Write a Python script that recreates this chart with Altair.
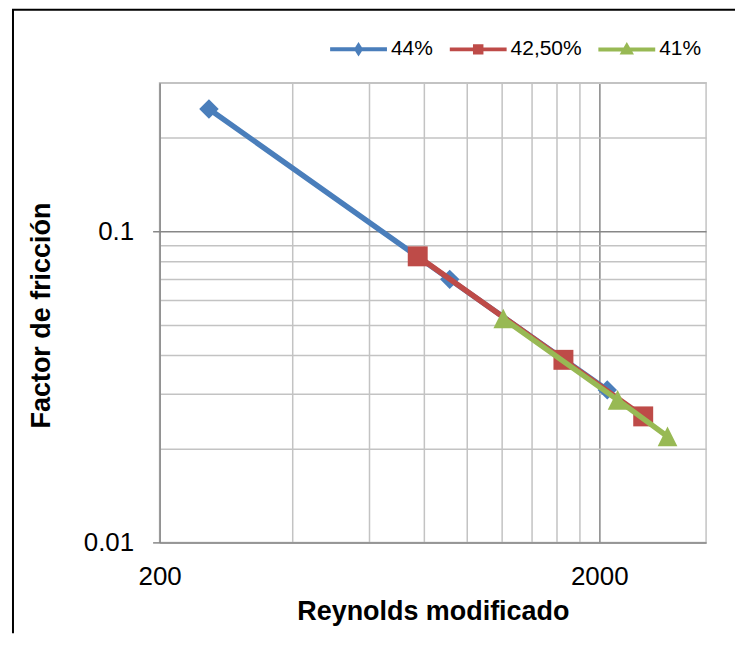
import altair as alt
import pandas as pd

FONT = "Liberation Sans"
MAJOR = "#878787"
MINOR = "#c3c3c3"

series_names = ["44%", "42,50%", "41%"]
line_colors = ["#4A7EBB", "#BE4B48", "#98B954"]

re_44 = [259, 914, 2086]
f_44 = [0.247, 0.0700, 0.0309]
re_425 = [773, 1658, 2518]
f_425 = [0.0830, 0.0386, 0.0254]
re_41 = [1210, 2202, 2860]
f_41 = [0.0524, 0.0287, 0.0219]

x_domain = [200, 3500]
y_domain = [0.01, 0.3]
x_grid = [200, 400, 600, 800, 1000, 1200, 1400, 1600, 1800, 2000]
y_grid = [0.01, 0.02, 0.03, 0.04, 0.05, 0.06, 0.07, 0.08, 0.09, 0.1, 0.2, 0.3]

# legend glyphs: a line with the series marker on it (unit = 5 px)
legend_glyphs = [
    "M-5.7,0H5.7M0,-0.7L0.45,0L0,0.7L-0.45,0Z",
    "M-5.7,0H5.7M-0.65,-0.65H0.65V0.65H-0.65ZM-0.2,-0.2H0.2V0.2H-0.2Z",
    "M-5.7,0H5.7M0,-0.7L0.75,0.6L-0.75,0.6ZM0,-0.1L0.2,0.25L-0.2,0.25Z",
]

rows = []
for name, xs, ys in zip(series_names, [re_44, re_425, re_41], [f_44, f_425, f_41]):
    for a, b in zip(xs, ys):
        rows.append({"series": name, "Re": a, "f": b})
df = pd.DataFrame(rows)

x_enc = alt.X(
    "Re:Q",
    title="Reynolds modificado",
    scale=alt.Scale(type="log", domain=x_domain, nice=False),
    axis=alt.Axis(
        values=x_grid,
        labelExpr="datum.value == 200 ? '200' : (datum.value == 2000 ? '2000' : '')",
        grid=True,
        gridColor={"condition": {"test": "datum.value == 2000", "value": MAJOR}, "value": MINOR},
        gridWidth=1.5,
        ticks=False,
        domainColor=MAJOR,
        domainWidth=1.5,
        labelFont=FONT,
        labelFontSize=26,
        labelColor="black",
        labelPadding=21,
        labelFlush=False,
        labelOverlap=False,
        titleFont=FONT,
        titleFontSize=27,
        titleFontWeight="bold",
        titleColor="black",
        titleBaseline="middle",
        titleY=69,
    ),
)

y_enc = alt.Y(
    "f:Q",
    title="Factor de fricción",
    scale=alt.Scale(type="log", domain=y_domain, nice=False),
    axis=alt.Axis(
        values=y_grid,
        labelExpr="datum.value == 0.1 ? '0.1' : (datum.value == 0.01 ? '0.01' : '')",
        grid=True,
        gridColor={"condition": {"test": "datum.value == 0.1", "value": MAJOR}, "value": MINOR},
        gridWidth=1.5,
        tickColor={"condition": {"test": "datum.value == 0.1 || datum.value == 0.01", "value": MAJOR},
                   "value": "transparent"},
        tickSize=7,
        tickWidth=1.5,
        domainColor=MAJOR,
        domainWidth=1.5,
        labelFont=FONT,
        labelFontSize=26,
        labelColor="black",
        labelPadding=19,
        labelFlush=False,
        labelOverlap=False,
        labelBaseline="middle",
        titleFont=FONT,
        titleFontSize=27,
        titleFontWeight="bold",
        titleColor="black",
        titleBaseline="middle",
        titleAlign="center",
        titleAngle=270,
        titleX=-118,
        titleY=233,
    ),
)

color_scale = alt.Scale(domain=series_names, range=line_colors)

legend_props = dict(
    title=None,
    orient="none",
    legendX=189,
    legendY=-44,
    direction="horizontal",
    symbolSize=100,
    symbolStrokeWidth=4,
    symbolOpacity=1,
    labelFont=FONT,
    labelFontSize=21,
    labelColor="black",
    labelOffset=22,
    columnPadding=8,
    padding=0,
)

marker_shapes = {
    "44%": ("diamond", 380),
    "42,50%": ("square", 400),
    "41%": ("M0,-1L1,1L-1,1Z", 390),
}

base = alt.Chart(df)

# legend-only layer (draws no marks)
legend_layer = base.transform_filter("false").mark_point(filled=False, opacity=1).encode(
    x=x_enc,
    y=y_enc,
    color=alt.Color("series:N", scale=color_scale, legend=alt.Legend(**legend_props)),
    shape=alt.Shape("series:N", scale=alt.Scale(domain=series_names, range=legend_glyphs),
                    legend=alt.Legend(**legend_props)),
)

layers = [legend_layer]
for name in series_names:
    shp, sz = marker_shapes[name]
    sel = base.transform_filter(alt.datum.series == name)
    c = alt.Color("series:N", scale=color_scale, legend=None)
    layers.append(
        sel.mark_line(strokeWidth=5.5, strokeCap="round", strokeJoin="round").encode(x=x_enc, y=y_enc, color=c)
    )
    layers.append(
        sel.mark_point(shape=shp, size=sz, filled=True, opacity=1).encode(x=x_enc, y=y_enc, color=c)
    )

one = pd.DataFrame({"k": [0]})
frame_left = alt.Chart(one).mark_rule(color="black", strokeWidth=2).encode(
    x=alt.value(-147), y=alt.value(-73), y2=alt.value(552)
)
frame_top = alt.Chart(one).mark_rule(color="black", strokeWidth=2).encode(
    x=alt.value(-148), x2=alt.value(577), y=alt.value(-73)
)

chart = (
    alt.layer(*layers, frame_left, frame_top)
    .properties(width=548, height=461, padding={"left": 3, "top": 0, "right": 0, "bottom": 0})
    .configure_view(stroke=MINOR, strokeWidth=1.5)
)

chart.save("out.html", embed_options={"renderer": "svg", "actions": False})
